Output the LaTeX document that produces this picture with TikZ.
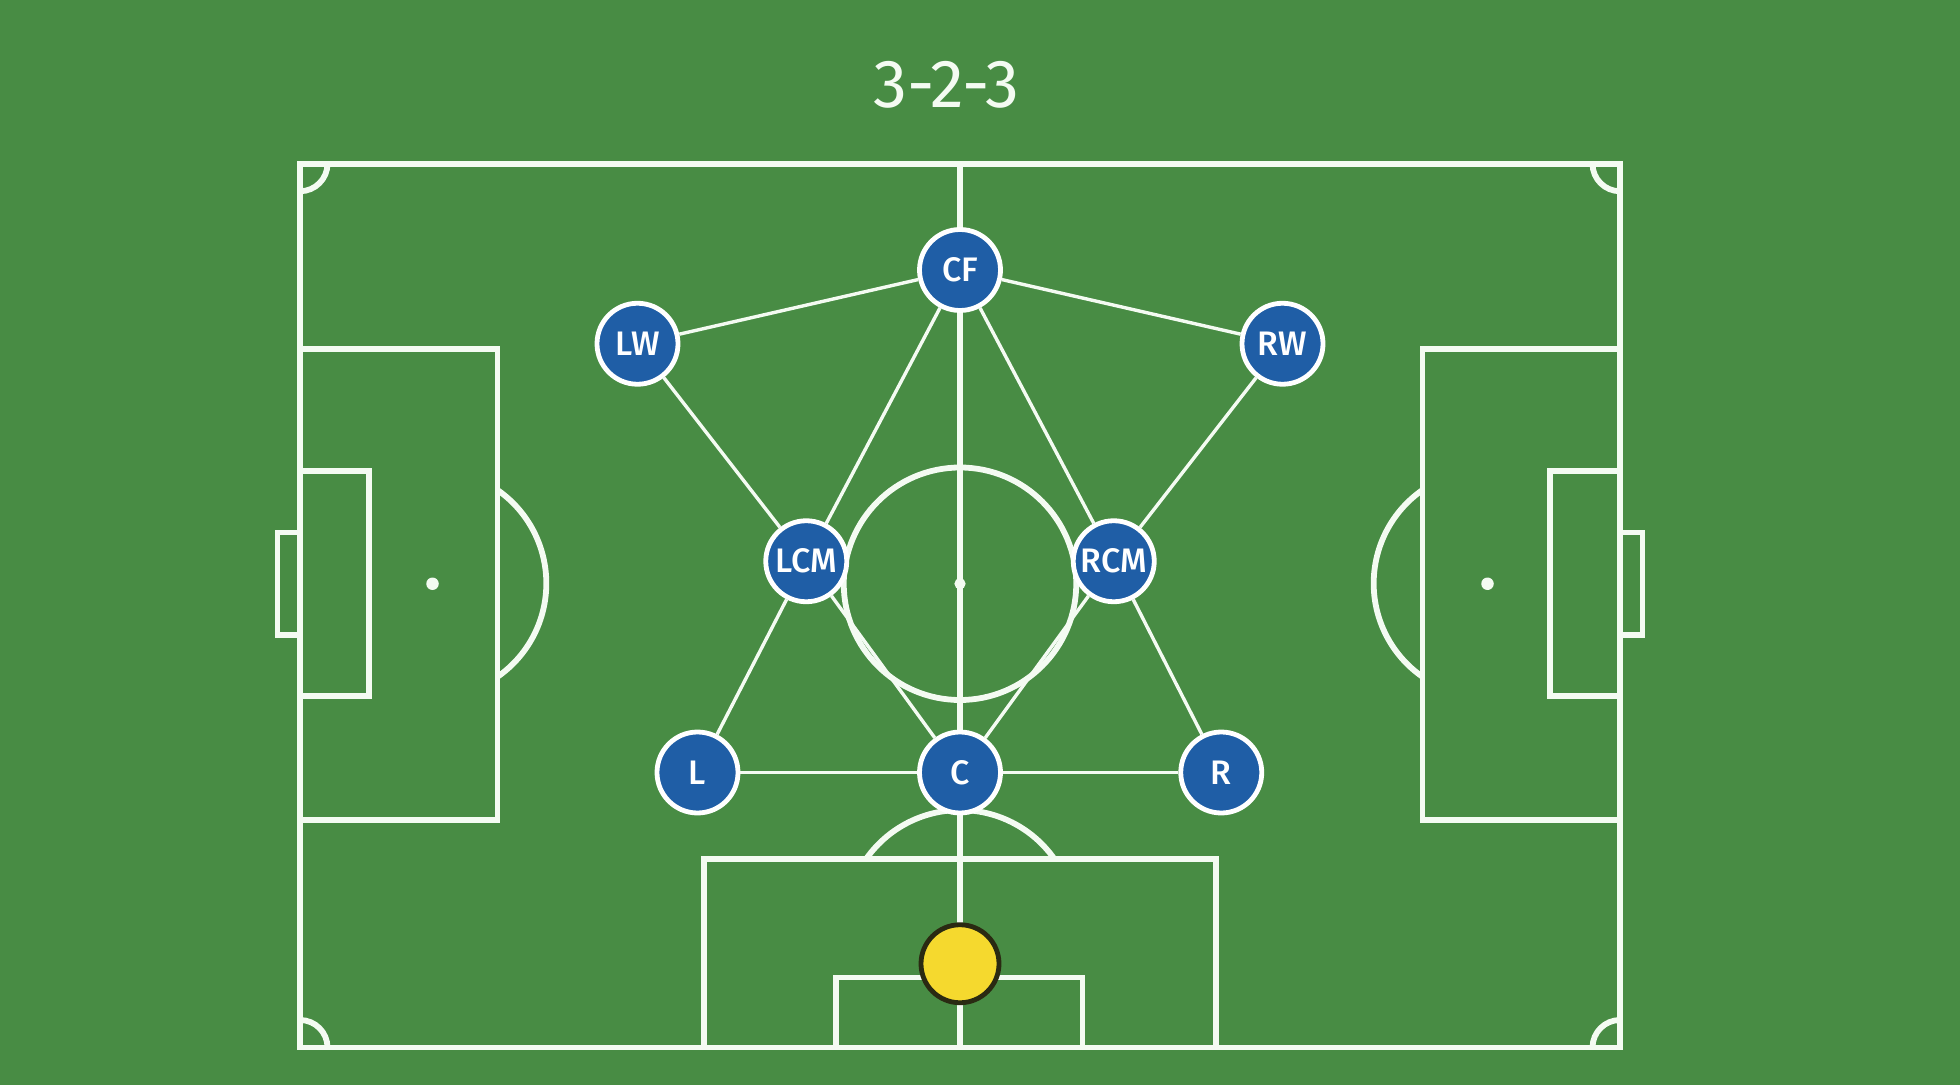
\documentclass[tikz,border=0pt]{standalone}
\usepackage{fontspec}
\setmainfont{Fira Sans}
\newfontfamily\titlefont{Fira Sans}
\newfontfamily\labelfont{Fira Sans Medium}
\definecolor{pitch}{HTML}{488C44}
\definecolor{chalk}{HTML}{F4FBF2}
\definecolor{player}{HTML}{1F5EA6}
\definecolor{ballfill}{HTML}{F5D92E}
\definecolor{ballline}{HTML}{2A2A12}
\tikzset{
  fieldline/.style={draw=chalk, line width=2.9pt},
  link/.style={draw=chalk, line width=1.7pt},
  playerbox/.style={circle, fill=player, draw=white, line width=2.4pt, minimum size=40.5pt, inner sep=0pt, text=white, font=\labelfont\fontsize{17}{17}\selectfont},
  ballnode/.style={circle, fill=ballfill, draw=ballline, line width=2.4pt, minimum size=39pt, inner sep=0pt},
  titletext/.style={text=chalk, font=\titlefont\fontsize{34}{34}\selectfont}
}
\begin{document}
\begin{tikzpicture}[x=0.625pt, y=-0.625pt]
\fill[pitch] (0,0) rectangle (1568,868);
\useasboundingbox (0,0) rectangle (1568,868);
% title
\node[titletext] (title) at (757,68) {3-2-3};
% outer field
\draw[fieldline] (240,131) rectangle (1296,838);
\draw[fieldline] (768,131) -- (768,838);
% centre circle
\draw[fieldline] (768,467) circle (93);
\fill[chalk] (768,467) circle (4.5);
% corner arcs
\draw[fieldline] (262,131) arc[start angle=0, end angle=90, radius=22];
\draw[fieldline] (1274,131) arc[start angle=180, end angle=90, radius=22];
\draw[fieldline] (262,838) arc[start angle=0, end angle=-90, radius=22];
\draw[fieldline] (1274,838) arc[start angle=180, end angle=270, radius=22];
% left penalty area
\draw[fieldline] (240,279) rectangle (398,656);
\draw[fieldline] (240,377) rectangle (295,557);
\draw[fieldline] (240,426) -- (222,426) -- (222,508) -- (240,508);
\fill[chalk] (346,467) circle (5);
\draw[fieldline] (398,392) arc[start angle=-55.2, end angle=55.2, radius=91];
% right penalty area
\draw[fieldline] (1138,279) rectangle (1296,656);
\draw[fieldline] (1240,377) rectangle (1296,557);
\draw[fieldline] (1296,426) -- (1314,426) -- (1314,508) -- (1296,508);
\fill[chalk] (1190,467) circle (5);
\draw[fieldline] (1138,392) arc[start angle=235.2, end angle=124.8, radius=91];
% bottom penalty area
\draw[fieldline] (563,838) -- (563,687) -- (973,687) -- (973,838);
\draw[fieldline] (669,838) -- (669,782) -- (866,782) -- (866,838);
\draw[fieldline] (693,687) arc[start angle=215.2, end angle=324.8, radius=92];
% ball
\node[ballnode] (ball) at (768,771) {};
% players
\node[playerbox] (CF) at (768,216) {CF};
\node[playerbox] (LW) at (510,275) {LW};
\node[playerbox] (RW) at (1026,275) {RW};
\node[playerbox] (LCM) at (645,449) {LCM};
\node[playerbox] (RCM) at (891,449) {RCM};
\node[playerbox] (L) at (558,618) {L};
\node[playerbox] (C) at (768,618) {C};
\node[playerbox] (R) at (977,618) {R};
% links
\draw[link] (CF) -- (LW);
\draw[link] (CF) -- (RW);
\draw[link] (CF) -- (LCM);
\draw[link] (CF) -- (RCM);
\draw[link] (LW) -- (LCM);
\draw[link] (RW) -- (RCM);
\draw[link] (LCM) -- (L);
\draw[link] (LCM) -- (C);
\draw[link] (RCM) -- (C);
\draw[link] (RCM) -- (R);
\draw[link] (L) -- (C);
\draw[link] (C) -- (R);
\end{tikzpicture}
\end{document}
